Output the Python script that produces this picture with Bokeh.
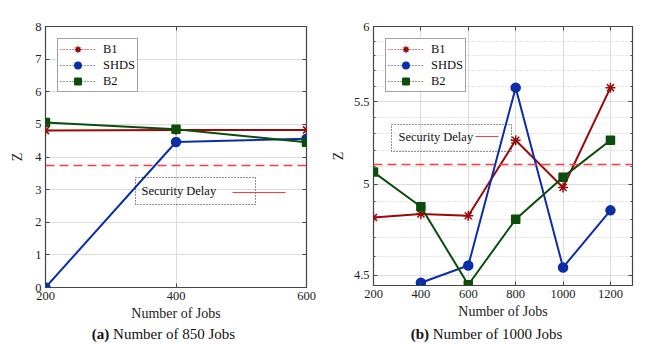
import numpy as np
from bokeh.plotting import figure
from bokeh.layouts import row, column
from bokeh.models import (FixedTicker, LinearAxis, LogAxis, Legend, LegendItem,
                          BoxAnnotation, Label, Span, Range1d, CustomJSTickFormatter, Div)
from bokeh.embed import file_html
from bokeh.resources import INLINE

FONT = "Liberation Serif"

# ---------------- data ----------------
jobs_a = [200, 400, 600]
b1_a = [4.81, 4.83, 4.83]
shds_a = [0.0, 4.46, 4.56]
b2_a = [5.06, 4.85, 4.45]
delay_a = 3.74

jobs_b = [200, 400, 600, 800, 1000, 1200]
b1_b = [4.81, 4.83, 4.82, 5.26, 4.98, 5.59]
shds_b = [np.nan, 4.46, 4.55, 5.59, 4.54, 4.85]
b2_b = [5.07, 4.87, 4.45, 4.80, 5.04, 5.26]
delay_b = 5.115

xticks_a = [200, 400, 600]
yticks_a = [0, 1, 2, 3, 4, 5, 6, 7, 8]
xticks_b = [200, 400, 600, 800, 1000, 1200]
yticks_b = [4.5, 5.0, 5.5, 6.0]
yminor_b = [round(4.5 + 0.1 * i, 1) for i in range(16)]

names = ["B1", "SHDS", "B2"]
colors = ["#990a0a", "#0a2ea8", "#0b4d0b"]
markers = ["asterisk", "circle", "square"]
sizes = [10, 9, 8]

captions = [("(a)", "Number of 850 Jobs"), ("(b)", "Number of 1000 Jobs")]

DELAY_COLOR = "#ff3b3b"
GRID = "#dcdcdc"
EDGE = "#444444"


def style(p, xticks, yticks, log=False, yminor=None):
    p.outline_line_color = EDGE
    p.outline_line_width = 1.2
    p.background_fill_color = "white"
    p.border_fill_color = "white"
    for ax in p.xaxis + p.yaxis:
        ax.axis_line_color = None
        ax.major_tick_in = 4
        ax.major_tick_out = 0
        ax.major_tick_line_color = EDGE
        ax.minor_tick_line_color = None
        ax.major_label_text_font = FONT
        ax.major_label_text_font_size = "12.5px"
        ax.major_label_text_color = "#222222"
        ax.axis_label_text_font = FONT
        ax.axis_label_text_font_size = "14px"
        ax.axis_label_text_font_style = "normal"
        ax.axis_label_text_color = "#222222"
        ax.major_label_standoff = 4
    p.xaxis.ticker = FixedTicker(ticks=xticks)
    if yminor is not None:
        yt = FixedTicker(ticks=yticks, minor_ticks=yminor)
    else:
        yt = FixedTicker(ticks=yticks)
    p.yaxis.ticker = yt
    p.xaxis.axis_label = "Number of Jobs"
    p.xaxis.axis_label_standoff = 3
    p.yaxis.axis_label = "Z"
    p.xgrid.grid_line_color = GRID
    p.ygrid.grid_line_color = GRID
    blank = CustomJSTickFormatter(code="return ''")
    top = LinearAxis(ticker=FixedTicker(ticks=xticks), formatter=blank)
    right = (LogAxis if log else LinearAxis)(ticker=yt, formatter=blank)
    for ax in (top, right):
        ax.axis_line_color = None
        ax.major_tick_in = 4
        ax.major_tick_out = 0
        ax.major_tick_line_color = EDGE
        ax.minor_tick_line_color = None
        ax.major_label_standoff = 0
    if yminor is not None:
        for ax in (p.yaxis[0], right):
            ax.minor_tick_line_color = EDGE
            ax.minor_tick_in = 2
            ax.minor_tick_out = 0
        p.ygrid.minor_grid_line_color = "#c8c8c8"
        p.ygrid.minor_grid_line_dash = "1 2"
    p.add_layout(top, "above")
    p.add_layout(right, "right")


def add_series(p, x, ys):
    items = []
    for name, y, c, m, s in zip(names, ys, colors, markers, sizes):
        p.line(x, y, line_color=c, line_width=2)
        p.scatter(x, y, marker=m, size=s, fill_color=c, line_color=c, line_width=1.5)
        lr = p.line([np.nan], [np.nan], line_color=c, line_width=1, line_dash="1 2")
        sr = p.scatter([np.nan], [np.nan], marker=m, size=s, fill_color=c,
                       line_color=c, line_width=1.5)
        items.append(LegendItem(label=name, renderers=[lr, sr]))
    leg = Legend(items=items, location="top_left", margin=12,
                 label_text_font=FONT, label_text_font_size="12.5px",
                 label_text_color="#111111",
                 label_height=15, glyph_height=16, glyph_width=35,
                 label_standoff=8, spacing=0, padding=2,
                 border_line_color=EDGE, border_line_width=1,
                 background_fill_alpha=1)
    p.add_layout(leg, "center")


def add_delay(p, level, box, text_pos, line_pos):
    p.add_layout(Span(location=level, dimension="width", line_color=DELAY_COLOR,
                      line_width=1.5, line_dash="9 5"))
    l, r, b, t = box
    p.add_layout(BoxAnnotation(left=l, right=r, bottom=b, top=t,
                               left_units="screen", right_units="screen",
                               bottom_units="screen", top_units="screen",
                               fill_alpha=0, line_color="#222222", line_width=1,
                               line_dash="1 2", line_alpha=1))
    p.add_layout(Label(x=text_pos[0], y=text_pos[1], x_units="screen", y_units="screen",
                       text="Security Delay", text_font=FONT, text_font_size="12.5px",
                       text_baseline="middle", text_align="left", text_color="#111111"))
    x0, x1, y0 = line_pos
    p.add_layout(BoxAnnotation(left=x0, right=x1, bottom=y0 - 0.6, top=y0 + 0.6,
                               left_units="screen", right_units="screen",
                               bottom_units="screen", top_units="screen",
                               fill_color=DELAY_COLOR, fill_alpha=1, line_color=None))


def caption_div(tag, text, width):
    return Div(text=f"<b>{tag}</b> {text}", width=width, height=18,
               styles={"font-family": FONT, "font-size": "15px", "line-height": "18px",
                       "text-align": "center", "color": "#111111", "margin": "0",
                       "white-space": "nowrap"})


# ---------------- panel (a) ----------------
p1 = figure(frame_width=261, frame_height=261, x_range=Range1d(200, 600),
            y_range=Range1d(0, 8), output_backend="svg", toolbar_location=None,
            min_border_left=45, min_border_right=21, min_border_top=24,
            min_border_bottom=40)
style(p1, xticks_a, yticks_a)
p1.yaxis[0].axis_label_standoff = 7
add_series(p1, jobs_a, [b1_a, shds_a, b2_a])
add_delay(p1, delay_a, (90, 210, 83, 110), (96, 97), (187, 240, 95))

# ---------------- panel (b) ----------------
p2 = figure(frame_width=259, frame_height=259, x_range=Range1d(200, 1293),
            y_range=Range1d(4.446, 6.0), y_axis_type="log",
            output_backend="svg", toolbar_location=None,
            min_border_left=46, min_border_right=14, min_border_top=26,
            min_border_bottom=40)
style(p2, xticks_b, yticks_b, log=True, yminor=yminor_b)
p2.yaxis[0].major_label_overrides = {4.5: "4.5", 5.0: "5", 5.5: "5.5", 6.0: "6"}
p2.yaxis[0].axis_label_standoff = 5
add_series(p2, jobs_b, [b1_b, shds_b, b2_b])
add_delay(p2, delay_b, (18, 138, 134, 161), (25, 149), (102, 125, 149))

d1 = caption_div(captions[0][0], captions[0][1], 327)
d2 = caption_div(captions[1][0], captions[1][1], 319)

layout = column(row(p1, p2, spacing=0), row(d1, d2, spacing=0), spacing=0)
open("out.html", "w").write(file_html(layout, INLINE))
